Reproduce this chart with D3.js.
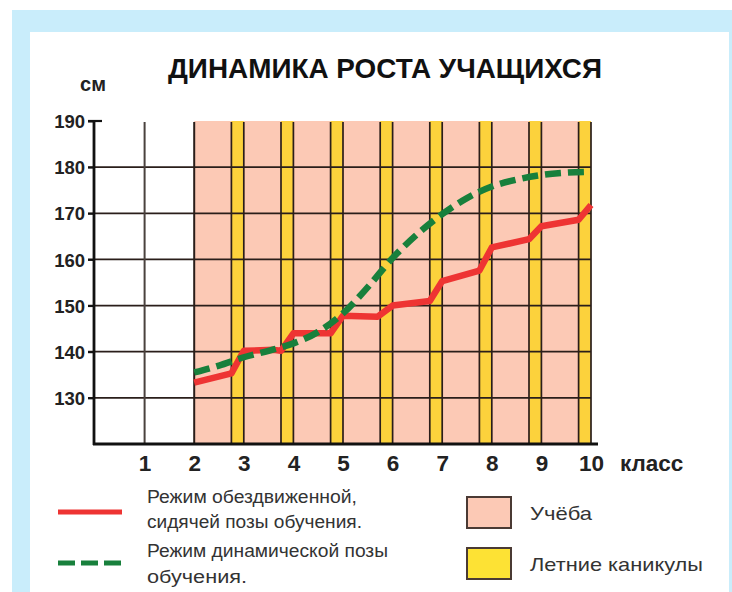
<!DOCTYPE html>
<html><head><meta charset="utf-8">
<script src="https://cdn.jsdelivr.net/npm/d3@7"></script>
<style>body{margin:0;background:#fff}svg{display:block}</style>
</head><body>
<svg id="c" width="732" height="592"></svg>
<script>
const title = "ДИНАМИКА РОСТА УЧАЩИХСЯ";
const unitLabel = "см";
const xAxisLabel = "класс";
const classes = [1, 2, 3, 4, 5, 6, 7, 8, 9, 10];
const yTicks = [130, 140, 150, 160, 170, 180, 190];
const studyRange = [2, 10];
const summerStarts = [2.75, 3.75, 4.75, 5.75, 6.75, 7.75, 8.75, 9.75];
const summerEnds = [3, 4, 5, 6, 7, 8, 9, 10];
const sedentaryX = [2, 2.75, 3, 3.6, 3.75, 4, 4.75, 5, 5.7, 6, 6.75, 7, 7.75, 8, 8.75, 9, 9.75, 10];
const sedentaryY = [133.3, 135.3, 140.2, 140.4, 140.2, 144.0, 144.0, 147.8, 147.6, 150.0, 151.0, 155.3, 157.6, 162.6, 164.4, 167.2, 168.6, 171.8];
const dynamicX = [2, 2.5, 3, 3.5, 4, 4.5, 5, 5.5, 6, 6.5, 7, 7.5, 8, 8.5, 9, 9.5, 10];
const dynamicY = [135.5, 137.0, 138.8, 140.2, 141.8, 144.3, 148.3, 154.0, 160.3, 165.5, 169.8, 173.3, 175.8, 177.3, 178.3, 178.8, 179.0];
const legendLines = ["Режим обездвиженной,", "сидячей позы обучения.", "Режим динамической позы", "обучения."];
const legendBoxes = ["Учёба", "Летние каникулы"];

const svg = d3.select("#c");
const FONT = "'Liberation Sans', Arial, sans-serif";
const PINK = "#fcc9b5", YELLOW = "#fcd23c", GRID = "#2a1e1a";

// frame
svg.append("rect").attr("x", 12).attr("y", 10).attr("width", 720).attr("height", 582).attr("fill", "#c9edfb");
svg.append("rect").attr("x", 30).attr("y", 32).attr("width", 699).attr("height", 560).attr("fill", "#fff");

const x = d3.scaleLinear().domain([0, 10]).range([95, 591]);
const y = d3.scaleLinear().domain([120, 190]).range([444, 121]);

// study background
svg.append("rect").attr("x", x(studyRange[0])).attr("y", y(190))
  .attr("width", x(studyRange[1]) - x(studyRange[0])).attr("height", y(120) - y(190)).attr("fill", PINK);
// summer bands
svg.selectAll(".sum").data(summerStarts).join("rect")
  .attr("x", (d) => x(d)).attr("y", y(190))
  .attr("width", (d, i) => x(summerEnds[i]) - x(d)).attr("height", y(120) - y(190)).attr("fill", YELLOW);

// horizontal grid
svg.selectAll(".hg").data(yTicks.filter(v => v < 190)).join("line")
  .attr("x1", 88).attr("x2", x(10)).attr("y1", d => y(d)).attr("y2", d => y(d))
  .attr("stroke", GRID).attr("stroke-width", 1.7);
// vertical grid
const vLines = [1, 2].concat(summerStarts, summerEnds);
svg.selectAll(".vg").data(vLines).join("line")
  .attr("x1", d => x(d)).attr("x2", d => x(d)).attr("y1", y(190) + 1).attr("y2", y(120))
  .attr("stroke", d => d === 1 ? "#4a423e" : GRID).attr("stroke-width", d => d <= 2 ? 2 : 1.7);

// axes
const yAxis = svg.append("g").attr("transform", `translate(${x(0) - 1},0)`)
  .call(d3.axisLeft(y).tickValues(yTicks).tickSize(6).tickPadding(3));
yAxis.select(".domain").remove();
yAxis.selectAll("line").attr("stroke", "#111").attr("stroke-width", 2);
yAxis.selectAll("text").attr("font-family", FONT).attr("font-weight", "bold").attr("font-size", 18.5)
  .attr("fill", "#222").attr("dy", "0.36em");
svg.append("line").attr("x1", 88).attr("x2", 102).attr("y1", y(190)).attr("y2", y(190)).attr("stroke", "#111").attr("stroke-width", 2.2);
svg.append("line").attr("x1", x(0) - 1).attr("x2", x(0) - 1).attr("y1", y(190)).attr("y2", y(120) + 1).attr("stroke", "#111").attr("stroke-width", 2.8);

const xAxis = svg.append("g").attr("transform", `translate(0,${y(120)})`)
  .call(d3.axisBottom(x).tickValues(classes).tickSize(0).tickPadding(11));
xAxis.select(".domain").remove();
xAxis.selectAll("text").attr("font-family", FONT).attr("font-weight", "bold").attr("font-size", 22.5).attr("fill", "#222");
svg.append("line").attr("x1", x(0) - 2).attr("x2", 598).attr("y1", y(120)).attr("y2", y(120)).attr("stroke", "#111").attr("stroke-width", 2.8);

svg.append("text").attr("x", 620).attr("y", 471).attr("font-family", FONT).attr("font-weight", "bold")
  .attr("font-size", 22.5).attr("fill", "#222").text(xAxisLabel);
svg.append("text").attr("x", 93).attr("y", 91).attr("text-anchor", "middle").attr("font-family", FONT)
  .attr("font-weight", "bold").attr("font-size", 20).attr("fill", "#222").text(unitLabel);
svg.append("text").attr("x", 168).attr("y", 78).attr("font-family", FONT).attr("font-weight", "bold")
  .attr("font-size", 28).attr("fill", "#111").attr("textLength", 434).attr("lengthAdjust", "spacingAndGlyphs").text(title);

// lines
const sedPts = sedentaryX.map((v, i) => [v, sedentaryY[i]]);
const dynPts = dynamicX.map((v, i) => [v, dynamicY[i]]);
const lineLin = d3.line().x(d => x(d[0])).y(d => y(d[1]));
const lineSmooth = d3.line().x(d => x(d[0])).y(d => y(d[1])).curve(d3.curveMonotoneX);
svg.append("path").attr("d", lineLin(sedPts)).attr("fill", "none").attr("stroke", "#ee3433")
  .attr("stroke-width", 6.5).attr("stroke-linejoin", "round");
svg.append("path").attr("d", lineSmooth(dynPts)).attr("fill", "none").attr("stroke", "#18803c")
  .attr("stroke-width", 6.5).attr("stroke-dasharray", "16,7");

// legend
svg.append("line").attr("x1", 58).attr("x2", 122).attr("y1", 512).attr("y2", 512).attr("stroke", "#ee3433").attr("stroke-width", 5);
svg.append("line").attr("x1", 58).attr("x2", 122).attr("y1", 563).attr("y2", 563).attr("stroke", "#18803c")
  .attr("stroke-width", 5).attr("stroke-dasharray", "17,6");
const legY = [503, 528, 557, 583];
const legW = [210, 215, 241, 100];
svg.selectAll(".lt").data(legendLines).join("text")
  .attr("x", 147).attr("y", (d, i) => legY[i]).attr("font-family", FONT).attr("font-size", 17.5).attr("fill", "#333")
  .attr("textLength", (d, i) => legW[i]).attr("lengthAdjust", "spacingAndGlyphs").text(d => d);
const boxY = [497, 548];
const boxFill = [PINK, "#fde234"];
svg.selectAll(".lb").data(legendBoxes).join("rect")
  .attr("x", 467).attr("y", (d, i) => boxY[i]).attr("width", 44).attr("height", 31)
  .attr("fill", (d, i) => boxFill[i]).attr("stroke", "#4a3a34").attr("stroke-width", 2);
const boxTW = [62, 173];
svg.selectAll(".lbt").data(legendBoxes).join("text")
  .attr("x", 530).attr("y", (d, i) => boxY[i] + 23).attr("font-family", FONT).attr("font-size", 18.5).attr("fill", "#333")
  .attr("textLength", (d, i) => boxTW[i]).attr("lengthAdjust", "spacingAndGlyphs").text(d => d);
</script>
</body></html>
